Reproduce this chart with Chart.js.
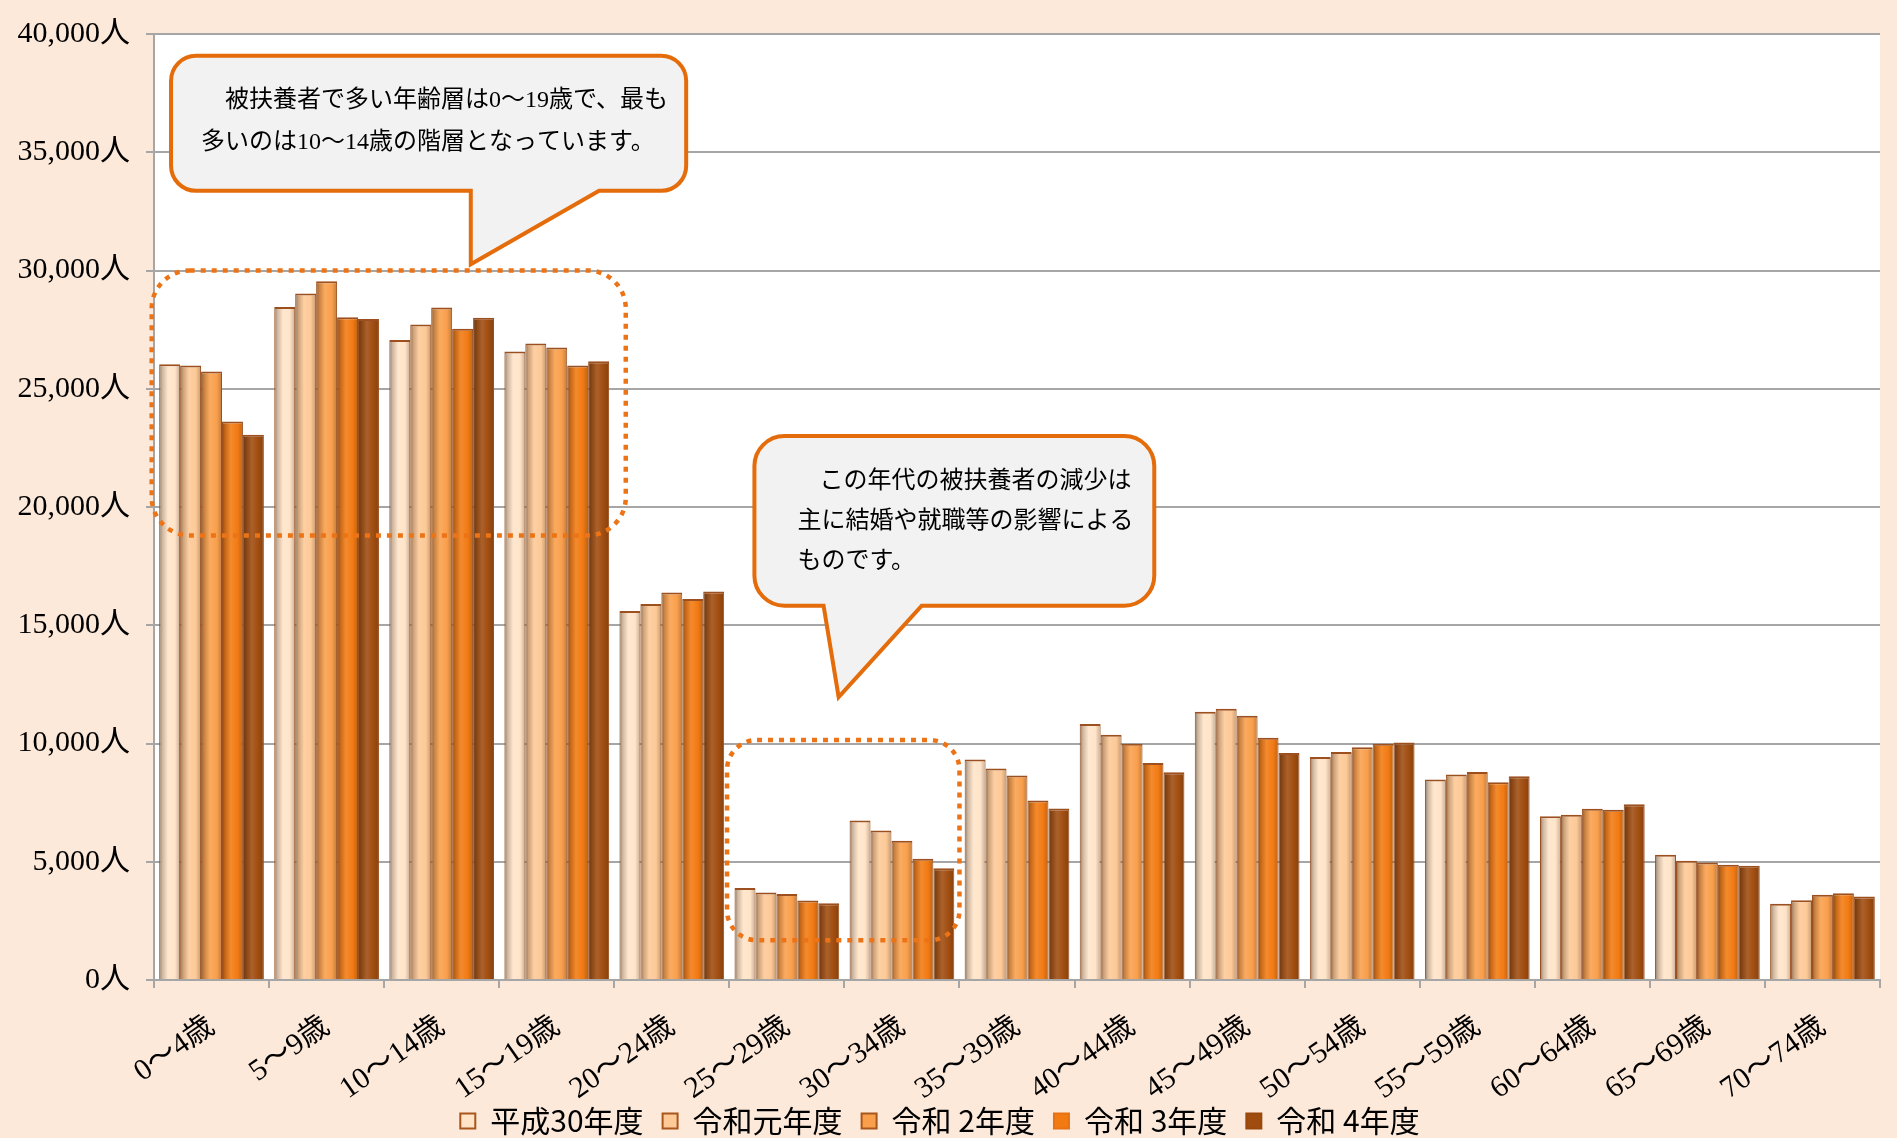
<!DOCTYPE html>
<html lang="ja">
<head>
<meta charset="utf-8">
<script src="https://cdn.jsdelivr.net/npm/chart.js@4"></script>
<style>
  html, body { margin: 0; padding: 0; background: #FDE9DA; }
  #wrap { width: 1897px; height: 1138px; }
</style>
</head>
<body>
<div id="wrap"><canvas id="ageChart" width="1897" height="1138"></canvas></div>
<script>
const ageLabels = ['0～4歳', '5～9歳', '10～14歳', '15～19歳', '20～24歳', '25～29歳', '30～34歳',
    '35～39歳', '40～44歳', '45～49歳', '50～54歳', '55～59歳', '60～64歳', '65～69歳', '70～74歳'];
const seriesNames = ['平成30年度', '令和元年度', '令和 2年度', '令和 3年度', '令和 4年度'];

const h30 = [26040, 28455, 27060, 26580, 15600, 3890, 6740, 9325, 10820, 11340, 9425, 8480, 6925, 5300, 3220];
const r1  = [25980, 29025, 27720, 26910, 15900, 3700, 6320, 8940, 10370, 11465, 9640, 8690, 6985, 5045, 3375];
const r2  = [25725, 29550, 28440, 26745, 16380, 3635, 5885, 8650, 9985, 11170, 9842, 8795, 7240, 4970, 3605];
const r3  = [23610, 28020, 27540, 25980, 16110, 3360, 5130, 7590, 9180, 10240, 9990, 8365, 7200, 4870, 3665];
const r4  = [23055, 27945, 28005, 26160, 16430, 3250, 4730, 7250, 8780, 9600, 10045, 8620, 7430, 4830, 3535];

const seriesColors = ['#FFE4C8', '#FDC996', '#F99F4C', '#F27A12', '#A04C0E'];
const legendStroke = ['#A8561C', '#A8561C', '#A8561C', '#E87114', '#9A480C'];

const CAT_PCT = 0.91;
const serif = "'Liberation Serif', 'Noto Sans CJK JP'";

function mix(hex, other, t) {
    const a = parseInt(hex.slice(1), 16), b = parseInt(other.slice(1), 16);
    const ch = (v, s) => (v >> s) & 255;
    const m = s => Math.round(ch(a, s) * (1 - t) + ch(b, s) * t);
    return `rgb(${m(16)},${m(8)},${m(0)})`;
}

// horizontal shading like the original 3D-ish bars
function barFill(ctx) {
    const base = seriesColors[ctx.datasetIndex];
    if (ctx.type !== 'data' || !ctx.chart.chartArea) return base;
    const xs = ctx.chart.scales.x;
    const cw = xs.width / ageLabels.length;
    const gw = cw * CAT_PCT;
    const bw = gw / seriesColors.length;
    const left = xs.getPixelForValue(ctx.dataIndex) - gw / 2 + ctx.datasetIndex * bw;
    const g = ctx.chart.ctx.createLinearGradient(left, 0, left + bw, 0);
    g.addColorStop(0, mix(base, '#3c2c20', 0.6));
    g.addColorStop(0.15, mix(base, '#3c2c20', 0.25));
    g.addColorStop(0.42, mix(base, '#ffffff', 0.12));
    g.addColorStop(0.75, base);
    g.addColorStop(1, mix(base, '#3c2c20', 0.3));
    return g;
}

// page colours: white plot area on beige
const backdrop = {
    id: 'backdrop',
    beforeDraw(chart) {
        const { ctx, chartArea: a } = chart;
        ctx.save();
        ctx.fillStyle = '#FDE9DA';
        ctx.fillRect(0, 0, chart.width, chart.height);
        ctx.fillStyle = '#FFFFFF';
        ctx.fillRect(a.left, a.top, a.right - a.left, a.bottom - a.top);
        ctx.restore();
    }
};

function roundRectPath(ctx, x0, y0, x1, y1, r) {
    ctx.beginPath();
    ctx.moveTo(x0 + r, y0);
    ctx.lineTo(x1 - r, y0);
    ctx.arcTo(x1, y0, x1, y0 + r, r);
    ctx.lineTo(x1, y1 - r);
    ctx.arcTo(x1, y1, x1 - r, y1, r);
    ctx.lineTo(x0 + r, y1);
    ctx.arcTo(x0, y1, x0, y1 - r, r);
    ctx.lineTo(x0, y0 + r);
    ctx.arcTo(x0, y0, x0 + r, y0, r);
    ctx.closePath();
}

function bubblePath(ctx, x0, y0, x1, y1, r, tl, tr, tx, ty) {
    ctx.beginPath();
    ctx.moveTo(x0 + r, y0);
    ctx.lineTo(x1 - r, y0);
    ctx.arcTo(x1, y0, x1, y0 + r, r);
    ctx.lineTo(x1, y1 - r);
    ctx.arcTo(x1, y1, x1 - r, y1, r);
    ctx.lineTo(tr, y1);
    ctx.lineTo(tx, ty);
    ctx.lineTo(tl, y1);
    ctx.lineTo(x0 + r, y1);
    ctx.arcTo(x0, y1, x0, y1 - r, r);
    ctx.lineTo(x0, y0 + r);
    ctx.arcTo(x0, y0, x0 + r, y0, r);
    ctx.closePath();
}

// callouts and dotted frames, placed in category / value units
const callouts = {
    id: 'callouts',
    afterDatasetsDraw(chart) {
        const { ctx } = chart;
        const xs = chart.scales.x, ys = chart.scales.y;
        const cw = xs.width / ageLabels.length;
        const X = c => xs.left + c * cw;
        const Y = v => ys.getPixelForValue(v);

        ctx.save();
        ctx.strokeStyle = '#EC7417';
        ctx.lineWidth = 4.5;
        ctx.setLineDash([5, 6]);
        roundRectPath(ctx, X(-0.02), Y(30000), X(4.1), Y(18800), 38);
        ctx.stroke();
        roundRectPath(ctx, X(4.98), Y(10150), X(7.0), Y(1680), 30);
        ctx.stroke();
        ctx.setLineDash([]);

        ctx.fillStyle = '#F2F2F2';
        ctx.strokeStyle = '#E46C0A';
        ctx.lineWidth = 4;
        ctx.lineJoin = 'miter';
        bubblePath(ctx, X(0.148), Y(39080), X(4.625), Y(33370), 25, X(2.753), X(3.868), X(2.753), Y(30260));
        ctx.fill(); ctx.stroke();
        bubblePath(ctx, X(5.218), Y(23000), X(8.693), Y(15825), 30, X(5.819), X(6.672), X(5.95), Y(11960));
        ctx.fill(); ctx.stroke();

        ctx.fillStyle = '#000';
        ctx.font = `24px ${serif}`;
        ctx.textBaseline = 'middle';
        ctx.textAlign = 'left';
        const b1x = X(0.148), b1y = Y(39080);
        ctx.fillText('被扶養者で多い年齢層は0～19歳で、最も', b1x + 54, b1y + 45);
        ctx.fillText('多いのは10～14歳の階層となっています。', b1x + 30, b1y + 87);
        const b2x = X(5.218), b2y = Y(23000);
        ctx.fillText('この年代の被扶養者の減少は', b2x + 65, b2y + 46);
        ctx.fillText('主に結婚や就職等の影響による', b2x + 43, b2y + 86);
        ctx.fillText('ものです。', b2x + 43, b2y + 126);
        ctx.restore();
    }
};

// keep the legend band short so it sits at the bottom edge like the original
const legendBand = {
    id: 'legendBand',
    afterInit(chart) {
        const lg = chart.legend;
        if (!lg) return;
        const fit = lg.fit.bind(lg);
        lg.fit = function () { fit(); this.height = 51; };
    }
};

const seriesData = [h30, r1, r2, r3, r4];

new Chart(document.getElementById('ageChart'), {
    type: 'bar',
    data: {
        labels: ageLabels,
        datasets: seriesNames.map((name, i) => ({
            label: name,
            data: seriesData[i],
            backgroundColor: barFill,
            borderColor: '#9C5020',
            borderWidth: { top: 2, left: 1, right: 1, bottom: 0 },
            borderSkipped: 'bottom',
            categoryPercentage: CAT_PCT,
            barPercentage: 1.0
        }))
    },
    options: {
        responsive: false,
        animation: false,
        devicePixelRatio: 1,
        layout: { padding: { top: 27, right: 17, left: 0, bottom: 0 } },
        plugins: {
            legend: {
                position: 'bottom',
                labels: {
                    boxWidth: 15,
                    boxHeight: 15,
                    padding: 19,
                    color: '#000',
                    font: { family: "'Noto Sans CJK JP'", size: 30 },
                    generateLabels: () => seriesNames.map((name, i) => ({
                        text: name,
                        fillStyle: seriesColors[i],
                        strokeStyle: legendStroke[i],
                        lineWidth: 2,
                        hidden: false,
                        datasetIndex: i
                    }))
                }
            },
            tooltip: { enabled: false }
        },
        scales: {
            x: {
                afterFit(scale) {
                    scale.height = 107;
                    scale._computeLabelArea = () => null; // rotated labels may run past the band
                },
                grid: { offset: true, drawOnChartArea: false, tickLength: 8, color: '#A6A6A6', lineWidth: 2 },
                border: { color: '#A6A6A6', width: 2 },
                ticks: {
                    autoSkip: false, minRotation: 35, maxRotation: 35, padding: 21,
                    color: '#000', font: { family: serif, size: 30 }
                }
            },
            y: {
                min: 0, max: 40000,
                afterFit(scale) { scale.width = 154; },
                grid: { color: '#A6A6A6', lineWidth: 2, tickLength: 8 },
                border: { color: '#A6A6A6', width: 2 },
                ticks: {
                    stepSize: 5000, padding: 16, color: '#000',
                    font: { family: serif, size: 30 },
                    callback: v => v.toLocaleString('en-US') + '人'
                }
            }
        }
    },
    plugins: [backdrop, callouts, legendBand]
});
</script>
</body>
</html>
